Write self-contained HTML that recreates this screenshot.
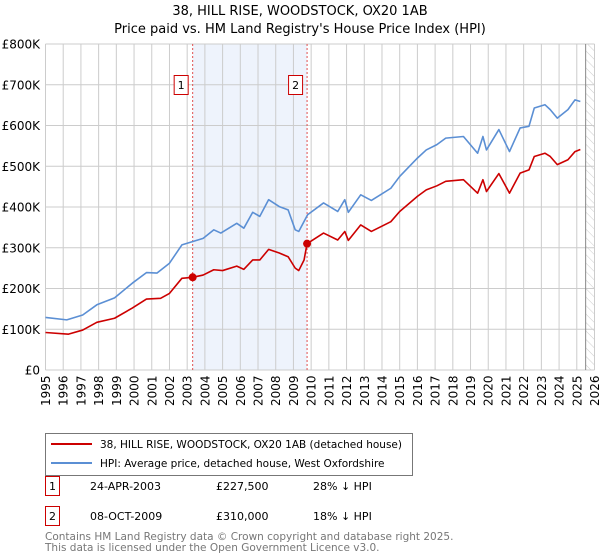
<!DOCTYPE html>
<html><head><meta charset="utf-8"><style>
body{margin:0;background:#fff;font-family:"Liberation Sans","DejaVu Sans",sans-serif;}
svg{display:block}
</style></head><body>
<svg width="600" height="560" xmlns="http://www.w3.org/2000/svg">
<defs><pattern id="hatch" width="6" height="6" patternUnits="userSpaceOnUse" patternTransform="rotate(-45)"><line x1="0" y1="0" x2="0" y2="6" stroke="#ccc" stroke-width="1"/></pattern></defs>
<text x="300" y="15" text-anchor="middle" font-size="13" font-family="DejaVu Sans, sans-serif">38, HILL RISE, WOODSTOCK, OX20 1AB</text>
<text x="300" y="33" text-anchor="middle" font-size="13" font-family="DejaVu Sans, sans-serif">Price paid vs. HM Land Registry's House Price Index (HPI)</text>
<g id="plot"></g>
<g>
<rect x="45.5" y="433.5" width="367" height="42" fill="#fff" stroke="#777"/>
<line x1="51" y1="444" x2="92" y2="444" stroke="#cc0000" stroke-width="2"/>
<text x="100" y="448" font-size="10.5" font-family="DejaVu Sans, sans-serif">38, HILL RISE, WOODSTOCK, OX20 1AB (detached house)</text>
<line x1="51" y1="463" x2="92" y2="463" stroke="#5b8fd4" stroke-width="2"/>
<text x="100" y="467" font-size="10.5" font-family="DejaVu Sans, sans-serif">HPI: Average price, detached house, West Oxfordshire</text>
</g>
<g font-size="11" font-family="DejaVu Sans, sans-serif">
<rect x="45.5" y="476.5" width="14" height="19" fill="#fff" stroke="#cc0000"/>
<text x="52.5" y="490" text-anchor="middle">1</text>
<text x="90" y="490">24-APR-2003</text><text x="216" y="490">£227,500</text><text x="313" y="490">28% ↓ HPI</text>
<rect x="45.5" y="506.5" width="14" height="19" fill="#fff" stroke="#cc0000"/>
<text x="52.5" y="520" text-anchor="middle">2</text>
<text x="90" y="520">08-OCT-2009</text><text x="216" y="520">£310,000</text><text x="313" y="520">18% ↓ HPI</text>
</g>
<text x="45" y="540" font-size="10.5" fill="#777" font-family="DejaVu Sans, sans-serif">Contains HM Land Registry data © Crown copyright and database right 2025.</text>
<text x="45" y="551" font-size="10.5" fill="#777" font-family="DejaVu Sans, sans-serif">This data is licensed under the Open Government Licence v3.0.</text>
</svg>
<script>
const hpiYears=[1995,1996.2,1997.1,1997.9,1998.9,1999.9,2000.7,2001.3,2002.0,2002.7,2003.3,2003.9,2004.5,2004.9,2005.8,2006.2,2006.7,2007.1,2007.6,2008.2,2008.7,2009.1,2009.3,2009.8,2010.7,2011.5,2011.9,2012.1,2012.8,2013.4,2014.5,2015.0,2016.0,2016.5,2017.1,2017.6,2018.6,2019.4,2019.7,2019.9,2020.6,2021.2,2021.8,2022.3,2022.6,2023.2,2023.5,2023.9,2024.5,2024.9,2025.2];
const hpiValues=[129,123,135,160,177,213,239,238,262,307,315,323,344,336,360,348,387,377,418,401,393,344,340,381,410,389,418,387,430,416,446,475,520,540,553,569,573,532,573,540,590,536,594,598,643,651,639,618,639,663,659];
const priceYears=[1995,1996.3,1997.1,1997.9,1998.9,1999.9,2000.7,2001.5,2002.0,2002.7,2003.31,2003.9,2004.5,2005.0,2005.8,2006.2,2006.7,2007.1,2007.6,2008.2,2008.7,2009.1,2009.3,2009.6,2009.77,2010.7,2011.5,2011.9,2012.1,2012.8,2013.4,2014.5,2015.0,2016.0,2016.5,2017.1,2017.6,2018.6,2019.4,2019.7,2019.9,2020.6,2021.2,2021.8,2022.3,2022.6,2023.2,2023.5,2023.9,2024.5,2024.9,2025.2];
const priceValues=[92,88,98,117,127,152,174,176,188,225,227.5,233,246,244,255,247,270,270,296,287,278,250,244,270,310,336,319,340,318,356,340,364,389,426,442,452,463,467,434,467,438,482,434,483,491,524,532,524,504,516,536,541];
const saleYears=[2003.31,2009.77];
const saleValues=[227.5,310];
const saleLabels=["1","2"];
const yTicks=[0,100,200,300,400,500,600,700,800];
const yTickLabels=["£0","£100K","£200K","£300K","£400K","£500K","£600K","£700K","£800K"];
const xTicks=[1995,1996,1997,1998,1999,2000,2001,2002,2003,2004,2005,2006,2007,2008,2009,2010,2011,2012,2013,2014,2015,2016,2017,2018,2019,2020,2021,2022,2023,2024,2025,2026];
const dataEnd=2025.5;

const L=45.5,R=594.5,T=44,B=370,x0=1995,x1=2026;
const X=v=>L+(v-x0)/(x1-x0)*(R-L);
const Y=v=>B-v/800*(B-T);
const NS='http://www.w3.org/2000/svg';
const g=document.getElementById('plot');
function mk(t,a){const e=document.createElementNS(NS,t);for(const k in a)e.setAttribute(k,a[k]);g.appendChild(e);return e;}
let e;
e=mk('rect',{x:X(saleYears[0]),y:T,width:X(saleYears[1])-X(saleYears[0]),height:B-T,fill:'#eef3fc'});


e=mk('rect',{x:X(dataEnd),y:T,width:R-X(dataEnd),height:B-T,fill:'url(#hatch)'});


xTicks.forEach(t=>{const l=mk('line',{x1:X(t),x2:X(t),y1:T,y2:B,stroke:'#ccc','stroke-width':1});


const tx=mk('text',{x:0,y:0,'font-size':12,'font-family':'DejaVu Sans, sans-serif',transform:`translate(${X(t)+4.5},${B+36}) rotate(-90)`});tx.textContent=t;

});
yTicks.forEach((t,i)=>{const l=mk('line',{x1:L,x2:R,y1:Y(t),y2:Y(t),stroke:'#ccc','stroke-width':1});


const tx=mk('text',{x:40,y:Y(t)+4.5,'text-anchor':'end','font-size':12,'font-family':'DejaVu Sans, sans-serif'});tx.textContent=yTickLabels[i];

});
e=mk('line',{x1:X(dataEnd),x2:X(dataEnd),y1:T,y2:B,stroke:'#888','stroke-width':1});


saleYears.forEach((s,i)=>{const l=mk('line',{x1:X(s),x2:X(s),y1:T,y2:B,stroke:'#e05050','stroke-width':1,'stroke-dasharray':'2,2'});


const r=mk('rect',{x:X(s)-18.5,y:75.5,width:14,height:19,fill:'#fff',stroke:'#cc0000'});


const tx=mk('text',{x:X(s)-11.5,y:89,'text-anchor':'middle','font-size':11,'font-family':'DejaVu Sans, sans-serif'});tx.textContent=saleLabels[i];

});
e=mk('polyline',{points:hpiYears.map((y,i)=>X(y)+','+Y(hpiValues[i])).join(' '),fill:'none',stroke:'#5b8fd4','stroke-width':1.6,'stroke-linejoin':'round'});


e=mk('polyline',{points:priceYears.map((y,i)=>X(y)+','+Y(priceValues[i])).join(' '),fill:'none',stroke:'#cc0000','stroke-width':1.6,'stroke-linejoin':'round'});


saleYears.forEach((s,i)=>{const c=mk('circle',{cx:X(s),cy:Y(saleValues[i]),r:4,fill:'#cc0000'});

});
</script>
</body></html>
